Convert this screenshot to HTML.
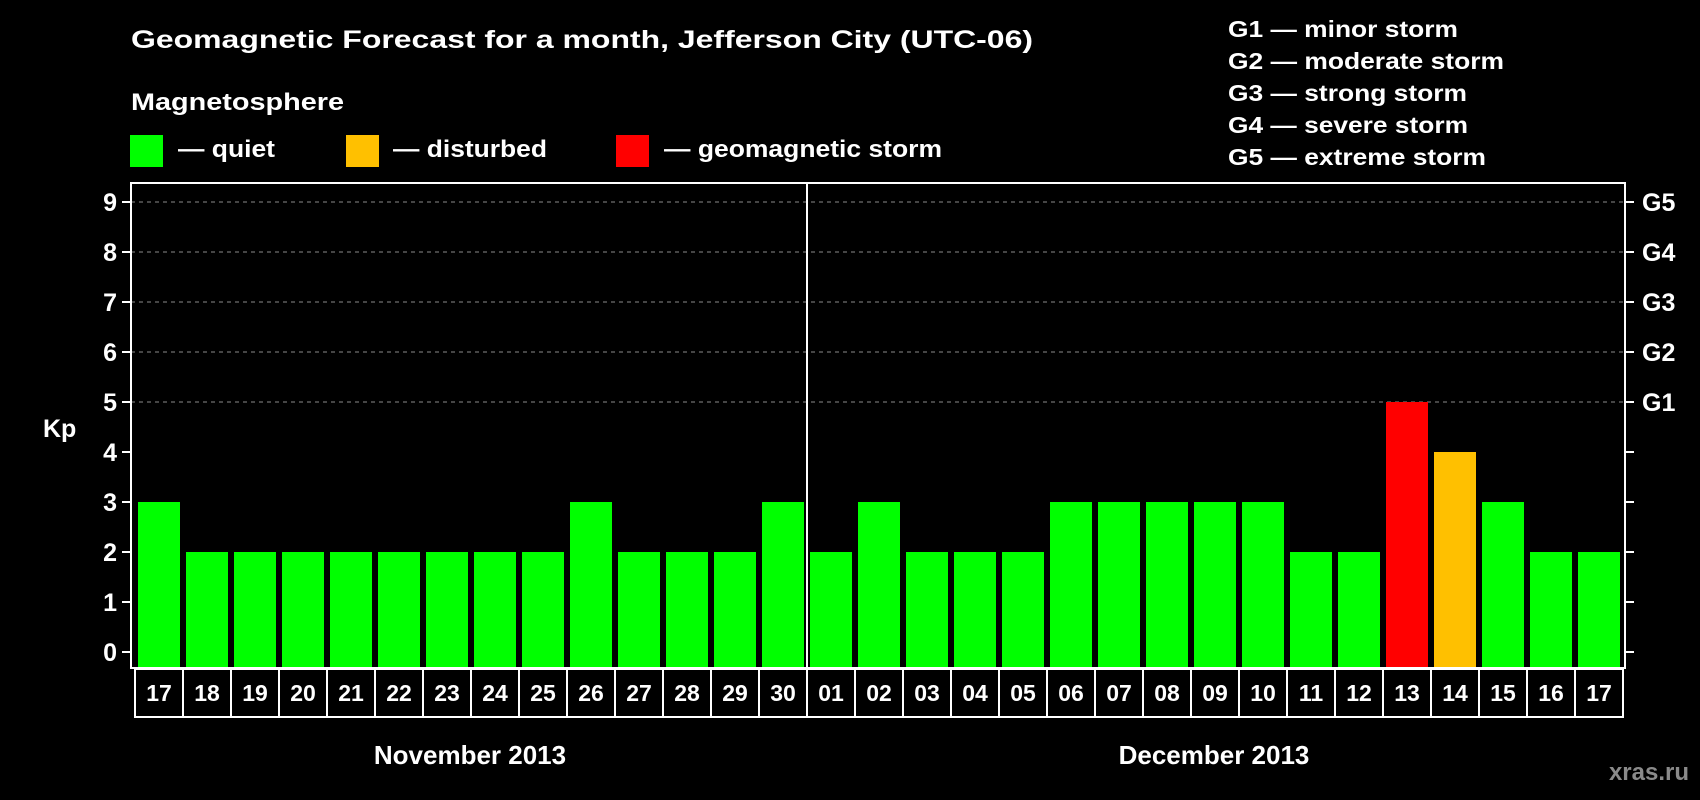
<!DOCTYPE html>
<html><head><meta charset="utf-8"><style>
html,body{margin:0;padding:0;background:#000;}
svg{display:block;font-family:"Liberation Sans",Arial,sans-serif;font-weight:bold;}
</style></head><body>
<svg id="chart" width="1700" height="800" viewBox="0 0 1700 800">
<rect x="0" y="0" width="1700" height="800" fill="#000"/>
<text x="131" y="48" font-size="25" fill="#fff" textLength="902" lengthAdjust="spacingAndGlyphs">Geomagnetic Forecast for a month, Jefferson City (UTC-06)</text>
<text x="131" y="110" font-size="24" fill="#fff" textLength="213" lengthAdjust="spacingAndGlyphs">Magnetosphere</text>
<g>
<rect x="130" y="135" width="33" height="32" fill="#00ff00"/>
<text x="178" y="157" font-size="24" fill="#fff" textLength="97" lengthAdjust="spacingAndGlyphs">— quiet</text></g>
<g>
<rect x="346" y="135" width="33" height="32" fill="#ffc000"/>
<text x="393" y="157" font-size="24" fill="#fff" textLength="154" lengthAdjust="spacingAndGlyphs">— disturbed</text></g>
<g>
<rect x="616" y="135" width="33" height="32" fill="#ff0000"/>
<text x="664" y="157" font-size="24" fill="#fff" textLength="278" lengthAdjust="spacingAndGlyphs">— geomagnetic storm</text></g>
<g font-size="23" fill="#fff">
<text x="1228" y="37" textLength="230" lengthAdjust="spacingAndGlyphs">G1 — minor storm</text>
<text x="1228" y="69" textLength="276" lengthAdjust="spacingAndGlyphs">G2 — moderate storm</text>
<text x="1228" y="101" textLength="239" lengthAdjust="spacingAndGlyphs">G3 — strong storm</text>
<text x="1228" y="133" textLength="240" lengthAdjust="spacingAndGlyphs">G4 — severe storm</text>
<text x="1228" y="165" textLength="258" lengthAdjust="spacingAndGlyphs">G5 — extreme storm</text>
</g>
<text x="43" y="437" font-size="25" fill="#fff">Kp</text>
<g id="grid"></g>
<g id="bars"></g>
<g id="axes"></g>
<g id="dates"></g>
<text x="470" y="764" font-size="26" fill="#fff" text-anchor="middle">November 2013</text>
<text x="1214" y="764" font-size="26" fill="#fff" text-anchor="middle">December 2013</text>
<text x="1689" y="780" font-size="24" fill="#8a8a8a" text-anchor="end">xras.ru</text>
</svg>
<script>
const days = ["17","18","19","20","21","22","23","24","25","26","27","28","29","30","01","02","03","04","05","06","07","08","09","10","11","12","13","14","15","16","17"];
const kpValues = [3,2,2,2,2,2,2,2,2,3,2,2,2,3,2,3,2,2,2,3,3,3,3,3,2,2,5,4,3,2,2];
const yTicks = [0,1,2,3,4,5,6,7,8,9];
const gLabels = ["G1","G2","G3","G4","G5"];
const gLevels = [5,6,7,8,9];
const monthSplit = 14;

const NS = "http://www.w3.org/2000/svg";
const L = 131, R = 1625, T = 183, B = 668, STEP = 48, BW = 42, X0 = 138;
function y(v){ return 652 - v * 50; }
function x(i){ return X0 + i * STEP; }
function color(v){ return v >= 5 ? "#ff0000" : (v >= 4 ? "#ffc000" : "#00ff00"); }
function mk(tag, attrs, parent){ const e = document.createElementNS(NS, tag); for (const k in attrs) e.setAttribute(k, attrs[k]); parent.appendChild(e); return e; }

const grid = document.getElementById("grid");
gLevels.forEach(function(v){
  const ln = mk("line", {x1:L, x2:R, y1:y(v), y2:y(v), stroke:"#8a8a8a", "stroke-width":1, "stroke-dasharray":"4 4"}, grid);
  
  
});

const bars = document.getElementById("bars");
kpValues.forEach(function(v, i){
  const r = mk("rect", {x:x(i), y:y(v), width:BW, height:B - y(v), fill:color(v)}, bars);
  
  
});

const axes = document.getElementById("axes");
const frame = mk("rect", {x:L, y:T, width:R-L, height:B-T, fill:"none", stroke:"#fff", "stroke-width":2}, axes);


const div = mk("line", {x1:x(monthSplit)-3, x2:x(monthSplit)-3, y1:T, y2:B, stroke:"#fff", "stroke-width":2}, axes);


yTicks.forEach(function(v){
  const t1 = mk("line", {x1:122, x2:L, y1:y(v), y2:y(v), stroke:"#fff", "stroke-width":2}, axes);
  
  
  const t2 = mk("line", {x1:R, x2:1634, y1:y(v), y2:y(v), stroke:"#fff", "stroke-width":2}, axes);
  
  
  const lb = mk("text", {x:117, y:y(v)+9, "font-size":25, fill:"#fff", "text-anchor":"end"}, axes);
  lb.textContent = String(v);
  
  
});
gLabels.forEach(function(g, i){
  const lb = mk("text", {x:1642, y:y(gLevels[i])+9, "font-size":25, fill:"#fff"}, axes);
  lb.textContent = g;
  
  
});

const dates = document.getElementById("dates");
days.forEach(function(d, i){
  const bx = mk("rect", {x:x(i)-3, y:669, width:STEP, height:48, fill:"none", stroke:"#fff", "stroke-width":2}, dates);
  
  
  const t = mk("text", {x:x(i)+BW/2, y:701, "font-size":23, fill:"#fff", "text-anchor":"middle"}, dates);
  t.textContent = d;
  
  
});
</script>
</body></html>
